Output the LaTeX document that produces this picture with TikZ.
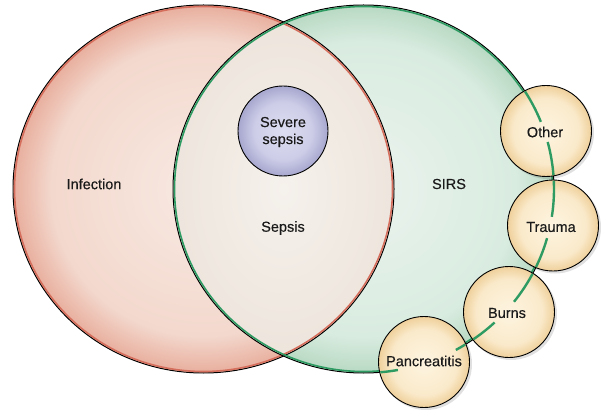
\documentclass[tikz,border=0pt]{standalone}
\usepackage{fontspec}
\setmainfont{Liberation Sans}
\newfontfamily\lblfont[BoldFont={Liberation Sans},BoldFeatures={FakeBold=0.35}]{Liberation Sans}
\usetikzlibrary{calc}
\definecolor{redin}{HTML}{F8EAE3}
\definecolor{redmid}{HTML}{F3D8CD}
\definecolor{redout}{HTML}{E8AE9D}
\definecolor{grnin}{HTML}{EBF3EE}
\definecolor{grnmid}{HTML}{D9ECE0}
\definecolor{grnout}{HTML}{B8D9C3}
\definecolor{lensin}{HTML}{F5F1EC}
\definecolor{lensout}{HTML}{EDE4DB}
\definecolor{redline}{HTML}{D56E5C}
\definecolor{grnline}{HTML}{2E9B63}
\definecolor{purin}{HTML}{DDDDF1}
\definecolor{purmid}{HTML}{CDCDE8}
\definecolor{purout}{HTML}{A7A7CF}
\definecolor{tanin}{HTML}{FDF4E0}
\definecolor{tanmid}{HTML}{FAEACB}
\definecolor{tanout}{HTML}{EFD09B}
\definecolor{txt}{HTML}{1A1A1A}
\pgfdeclareradialshading{redsh}{\pgfpoint{0bp}{0bp}}{color(0bp)=(redin); color(20bp)=(redmid); color(25bp)=(redout); color(50bp)=(redout)}
\pgfdeclareradialshading{grnsh}{\pgfpoint{0bp}{0bp}}{color(0bp)=(grnin); color(20bp)=(grnmid); color(25bp)=(grnout); color(50bp)=(grnout)}
\pgfdeclareradialshading{lenssh}{\pgfpoint{0bp}{0bp}}{color(0bp)=(lensin); color(25bp)=(lensout); color(50bp)=(lensout)}
\pgfdeclareradialshading{pursh}{\pgfpoint{0bp}{0bp}}{color(0bp)=(purin); color(16bp)=(purmid); color(25bp)=(purout); color(50bp)=(purout)}
\pgfdeclareradialshading{tansh}{\pgfpoint{0bp}{0bp}}{color(0bp)=(tanin); color(18bp)=(tanmid); color(25bp)=(tanout); color(50bp)=(tanout)}
\begin{document}
\begin{tikzpicture}[x=1pt,y=1pt,
  lbl/.style={font=\lblfont\bfseries\fontsize{14.5}{17}\selectfont, text=txt, align=center, inner sep=0pt},
  bigell/.style={x radius=190.5pt, y radius=184pt},
  inell/.style={x radius=189pt, y radius=182.5pt},
  tancirc/.style={circle, minimum size=91pt, inner sep=0pt, draw=black, line width=0.9pt, shading=tansh},
  purcirc/.style={circle, minimum size=90pt, inner sep=0pt, draw=black, line width=0.9pt, shading=pursh},
  shadowc/.style={circle, minimum size=92pt, inner sep=0pt, fill=black, fill opacity=0.12},
  grnarc/.style={draw=grnline, line width=2.4pt}]
\useasboundingbox (0,0) rectangle (607,410);
\coordinate (R) at (203.5,221);
\coordinate (G) at (363.5,221);
% fills
\shade[shading=redsh] (R) ellipse [bigell];
\shade[shading=grnsh] (G) ellipse [bigell];
\begin{scope}
  \clip (R) ellipse [bigell];
  \clip (G) ellipse [bigell];
  \shade[shading=lenssh] (283.5,221) ellipse [x radius=125pt, y radius=180pt];
\end{scope}
% outlines
\draw[black, line width=1pt] (R) ellipse [bigell];
\draw[redline, line width=1.6pt] (R) ellipse [inell];
\draw[black, line width=1pt] (G) ellipse [bigell];
\draw[grnline, line width=1.6pt] (G) ellipse [inell];
% severe sepsis
\node[purcirc] (sev) at (283,279) {};
% shadows of small circles
\node[shadowc] (soth) at (548,277) {};
\node[shadowc] (stra) at (555,182.5) {};
\node[shadowc] (sbur) at (511,96) {};
\node[shadowc] (span) at (426,46) {};
% small circles
\node[tancirc] (oth) at (546,279) {};
\node[tancirc] (tra) at (553,184.5) {};
\node[tancirc] (bur) at (509,98) {};
\node[tancirc] (pan) at (424,48) {};
% green arc through the small circles
\begin{scope}
  \clip (546,279) circle [radius=44.8pt] (553,184.5) circle [radius=44.8pt]
        (509,98) circle [radius=44.8pt] (424,48) circle [radius=44.8pt];
  \draw[grnarc] ([shift={(40:190.5pt and 184pt)}]G) arc [start angle=40, end angle=21.4, bigell];
  \draw[grnarc] ([shift={(14.8:190.5pt and 184pt)}]G) arc [start angle=14.8, end angle=-8.7, bigell];
  \draw[grnarc] ([shift={(-15.5:190.5pt and 184pt)}]G) arc [start angle=-15.5, end angle=-37.8, bigell];
  \draw[grnarc] ([shift={(-46.5:190.5pt and 184pt)}]G) arc [start angle=-46.5, end angle=-61, bigell];
  \draw[grnarc] ([shift={(-79.6:190.5pt and 184pt)}]G) arc [start angle=-79.6, end angle=-100, bigell];
\end{scope}
% labels
\node[lbl] (tinf) at (94,226) {Infection};
\node[lbl] (tsirs) at (449,226) {SIRS};
\node[lbl] (tsep) at (283,182) {Sepsis};
\node[lbl] (tsev) at (283,278) {Severe\\sepsis};
\node[lbl] (toth) at (545,278) {Other};
\node[lbl] (ttra) at (551,183) {Trauma};
\node[lbl] (tbur) at (507,97) {Burns};
\node[lbl] (tpan) at (424,49) {Pancreatitis};
\end{tikzpicture}
\end{document}
